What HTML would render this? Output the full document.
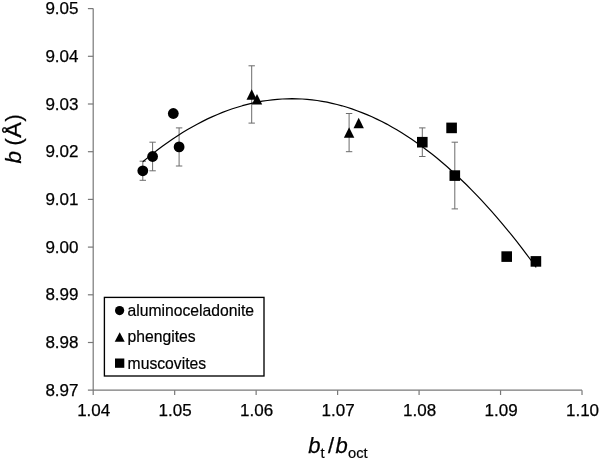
<!DOCTYPE html>
<html><head><meta charset="utf-8"><title>chart</title>
<style>
html,body{margin:0;padding:0;background:#fff;}
body{width:600px;height:460px;overflow:hidden;}
svg{display:block;}
text{font-family:"Liberation Sans",Arial,sans-serif;fill:#000;}
.tk{font-size:17px;stroke:#000;stroke-width:0.25px;}
.lg{font-size:15.7px;stroke:#000;stroke-width:0.2px;}
.ti{font-size:22px;stroke:#000;stroke-width:0.25px;}
.sub{font-size:14.7px;stroke:#000;stroke-width:0.2px;}
</style></head><body>
<svg width="600" height="460" viewBox="0 0 600 460">
<rect width="600" height="460" fill="#fff"/>
<g stroke="#787878" stroke-width="1.2" fill="none">
<line x1="93.2" y1="8.6" x2="93.2" y2="395.0"/>
<line x1="87.9" y1="390.2" x2="582.02" y2="390.2"/>
<line x1="87.9" y1="342.50" x2="93.2" y2="342.50"/>
<line x1="87.9" y1="294.80" x2="93.2" y2="294.80"/>
<line x1="87.9" y1="247.10" x2="93.2" y2="247.10"/>
<line x1="87.9" y1="199.40" x2="93.2" y2="199.40"/>
<line x1="87.9" y1="151.70" x2="93.2" y2="151.70"/>
<line x1="87.9" y1="104.00" x2="93.2" y2="104.00"/>
<line x1="87.9" y1="56.30" x2="93.2" y2="56.30"/>
<line x1="87.9" y1="8.60" x2="93.2" y2="8.60"/>
<line x1="174.67" y1="390.2" x2="174.67" y2="395.0"/>
<line x1="256.14" y1="390.2" x2="256.14" y2="395.0"/>
<line x1="337.61" y1="390.2" x2="337.61" y2="395.0"/>
<line x1="419.08" y1="390.2" x2="419.08" y2="395.0"/>
<line x1="500.55" y1="390.2" x2="500.55" y2="395.0"/>
<line x1="582.02" y1="390.2" x2="582.02" y2="395.0"/>
</g>
<g class="tk">
<text x="78.5" y="395.70" text-anchor="end">8.97</text>
<text x="78.5" y="348.00" text-anchor="end">8.98</text>
<text x="78.5" y="300.30" text-anchor="end">8.99</text>
<text x="78.5" y="252.60" text-anchor="end">9.00</text>
<text x="78.5" y="204.90" text-anchor="end">9.01</text>
<text x="78.5" y="157.20" text-anchor="end">9.02</text>
<text x="78.5" y="109.50" text-anchor="end">9.03</text>
<text x="78.5" y="61.80" text-anchor="end">9.04</text>
<text x="78.5" y="14.10" text-anchor="end">9.05</text>
<text x="93.70" y="416.4" text-anchor="middle">1.04</text>
<text x="175.17" y="416.4" text-anchor="middle">1.05</text>
<text x="256.64" y="416.4" text-anchor="middle">1.06</text>
<text x="338.11" y="416.4" text-anchor="middle">1.07</text>
<text x="419.58" y="416.4" text-anchor="middle">1.08</text>
<text x="501.05" y="416.4" text-anchor="middle">1.09</text>
<text x="582.52" y="416.4" text-anchor="middle">1.10</text>
</g>
<g stroke="#6c6c6c" stroke-width="1" fill="none">
<path d="M142.8 161.2V180.3M139.6 161.2H146.0M139.6 180.3H146.0"/>
<path d="M152.6 142.2V170.8M149.4 142.2H155.8M149.4 170.8H155.8"/>
<path d="M179.1 127.9V166.0M175.9 127.9H182.3M175.9 166.0H182.3"/>
<path d="M251.7 65.8V123.1M248.5 65.8H254.9M248.5 123.1H254.9"/>
<path d="M349.1 113.5V151.7M345.9 113.5H352.3M345.9 151.7H352.3"/>
<path d="M422.3 127.9V156.5M419.1 127.9H425.5M419.1 156.5H425.5"/>
<path d="M454.8 142.2V208.9M451.6 142.2H458.0M451.6 208.9H458.0"/>
</g>
<path d="M142.8 161.7 L147.8 157.6 L152.8 153.6 L157.7 149.7 L162.7 146.0 L167.7 142.5 L172.7 139.0 L177.7 135.7 L182.6 132.6 L187.6 129.6 L192.6 126.7 L197.6 124.0 L202.6 121.4 L207.5 118.9 L212.5 116.6 L217.5 114.5 L222.5 112.4 L227.5 110.5 L232.4 108.8 L237.4 107.2 L242.4 105.7 L247.4 104.4 L252.4 103.2 L257.3 102.2 L262.3 101.2 L267.3 100.5 L272.3 99.9 L277.3 99.4 L282.2 99.0 L287.2 98.8 L292.2 98.7 L297.2 98.8 L302.2 99.0 L307.1 99.4 L312.1 99.9 L317.1 100.5 L322.1 101.3 L327.1 102.2 L332.0 103.3 L337.0 104.5 L342.0 105.8 L347.0 107.3 L351.9 108.9 L356.9 110.7 L361.9 112.6 L366.9 114.6 L371.9 116.8 L376.8 119.1 L381.8 121.5 L386.8 124.1 L391.8 126.9 L396.8 129.8 L401.7 132.8 L406.7 135.9 L411.7 139.2 L416.7 142.7 L421.7 146.3 L426.6 150.0 L431.6 153.8 L436.6 157.8 L441.6 162.0 L446.6 166.3 L451.5 170.7 L456.5 175.3 L461.5 180.0 L466.5 184.8 L471.5 189.8 L476.4 194.9 L481.4 200.2 L486.4 205.6 L491.4 211.1 L496.4 216.8 L501.3 222.6 L506.3 228.6 L511.3 234.7 L516.3 240.9 L521.3 247.3 L526.2 253.9 L531.2 260.5 L536.2 267.3" fill="none" stroke="#000" stroke-width="1.2" stroke-linejoin="round"/>
<g fill="#000">
<circle cx="142.8" cy="170.8" r="5.4"/>
<circle cx="152.6" cy="156.5" r="5.4"/>
<circle cx="173.3" cy="113.5" r="5.4"/>
<circle cx="179.1" cy="146.9" r="5.4"/>
<path d="M251.7 89.2L256.9 99.7H246.5Z"/>
<path d="M257.0 93.9L262.2 104.4H251.8Z"/>
<path d="M349.1 127.3L354.3 137.8H343.9Z"/>
<path d="M358.7 117.8L363.9 128.3H353.5Z"/>
<rect x="417.0" y="136.9" width="10.6" height="10.6"/>
<rect x="446.3" y="122.6" width="10.6" height="10.6"/>
<rect x="449.5" y="170.3" width="10.6" height="10.6"/>
<rect x="501.4" y="251.3" width="10.6" height="10.6"/>
<rect x="530.6" y="256.1" width="10.6" height="10.6"/>
</g>
<rect x="104.4" y="297.4" width="159.6" height="78.6" fill="#fff" stroke="#000" stroke-width="1.35"/>
<g fill="#000"><circle cx="119.6" cy="310.6" r="4.6"/>
<path d="M119.7 332.3L124.7 341.8H114.7Z"/>
<rect x="115" y="358.5" width="9.3" height="9.3"/></g>
<g class="lg"><text x="127.6" y="316">aluminoceladonite</text>
<text x="127.6" y="342.4">phengites</text>
<text x="127.6" y="368.8">muscovites</text></g>
<text class="ti" style="font-size:22.4px;font-style:italic" transform="translate(21 163.6) rotate(-90)">b</text>
<text class="ti" style="font-size:21.5px" transform="translate(21.4 145.5) rotate(-90)">(</text>
<text class="ti" style="font-size:22.9px" transform="translate(21.3 137.8) rotate(-90) scale(1.02 1)">Å</text>
<text class="ti" style="font-size:21.5px" transform="translate(21.4 121.4) rotate(-90)">)</text>
<text class="ti" x="308.3" y="452.7" font-style="italic">b</text>
<text class="sub" x="320.6" y="457.7">t</text>
<text class="ti" x="328.1" y="452.7">/</text>
<text class="ti" x="335.4" y="452.7" font-style="italic">b</text>
<text class="sub" x="348.1" y="457.7">oct</text>
</svg></body></html>
